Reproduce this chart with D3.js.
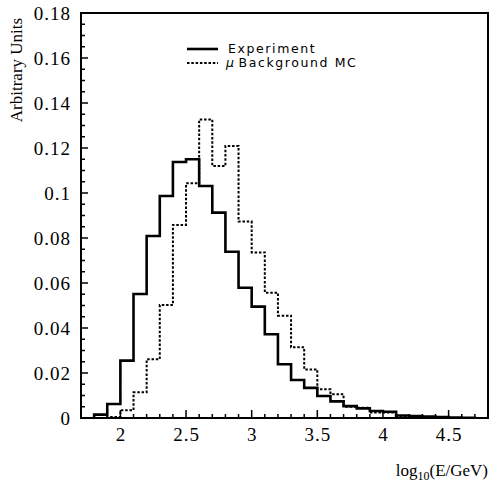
<!DOCTYPE html>
<html><head><meta charset="utf-8">
<script src="https://cdn.jsdelivr.net/npm/d3@7"></script>
<style>body{margin:0;background:#fff}</style>
</head><body><svg id="c" width="490" height="485"></svg>
<script>
// bin lower edges (width 0.1)
const binStart = 1.8, binWidth = 0.1;
const experiment = [0.0015,0.0062,0.0255,0.0551,0.0809,0.0987,0.1138,0.1150,0.1031,0.0913,0.0739,0.0579,0.0495,0.0372,0.0239,0.0169,0.0134,0.0098,0.0074,0.0053,0.0043,0.0031,0.0028,0.0011,0.0009,0.0006,0.0004,0.0002,0.0001];
const background = [0.0000,0.0005,0.0034,0.0114,0.0261,0.0502,0.0858,0.1043,0.1327,0.1120,0.1209,0.0873,0.0736,0.0557,0.0455,0.0314,0.0216,0.0128,0.0106,0.0050,0.0046,0.0025,0.0025,0.0005,0.0005,0,0,0,0];
const xTicks = [2,2.5,3,3.5,4,4.5];
const yTicks = [0,0.02,0.04,0.06,0.08,0.1,0.12,0.14,0.16,0.18];
const legendLabels = ["Experiment","Background MC"];

const svg = d3.select("#c");
const L=81,R=488,T=13,B=418;
const x = d3.scaleLinear().domain([1.7,4.8]).range([L,R]);
const y = d3.scaleLinear().domain([0,0.18]).range([B,T]);

function stepPath(vals){
  const p = d3.path();
  p.moveTo(x(binStart), y(0));
  vals.forEach((v,i)=>{
    const x0 = binStart + i*binWidth, x1 = x0+binWidth;
    p.lineTo(x(x0), y(v)); p.lineTo(x(x1), y(v));
  });
  p.lineTo(x(binStart+vals.length*binWidth), y(0));
  return p.toString();
}
svg.append("path").attr("d",stepPath(background)).attr("fill","none")
  .attr("stroke","#000").attr("stroke-width",2).attr("stroke-dasharray","2.5,1.8");
svg.append("path").attr("d",stepPath(experiment)).attr("fill","none")
  .attr("stroke","#000").attr("stroke-width",2.6);

// axes ticks (inside)
const minorX = d3.range(1.8,4.8,0.1).map(v=>+v.toFixed(2));
const minorY = d3.range(0,0.1801,0.005).map(v=>+v.toFixed(3));
const g = svg.append("g").attr("stroke","#000");
minorX.forEach(v=>{
  const major = xTicks.some(t=>Math.abs(t-v)<1e-6);
  g.append("line").attr("x1",x(v)).attr("x2",x(v)).attr("y1",B).attr("y2",B-(major?8:4)).attr("stroke-width",1.5);
});
minorY.forEach(v=>{
  const major = yTicks.some(t=>Math.abs(t-v)<1e-6);
  g.append("line").attr("x1",L).attr("x2",L+(major?7:4)).attr("y1",y(v)).attr("y2",y(v)).attr("stroke-width",1.5);
});
svg.append("rect").attr("x",L).attr("y",T).attr("width",R-L).attr("height",B-T)
  .attr("fill","none").attr("stroke","#000").attr("stroke-width",2);

const serif = "'Liberation Serif','Times New Roman',serif";
svg.append("g").selectAll("text").data(yTicks).join("text")
  .attr("x",71).attr("y",d=>y(d)+7).attr("text-anchor","end")
  .attr("font-family",serif).attr("font-size",19).attr("letter-spacing",1).text(d=>d3.format("")(d));
svg.append("g").selectAll("text").data(xTicks).join("text")
  .attr("x",d=>x(d)+0.5).attr("y",441).attr("text-anchor","middle")
  .attr("font-family",serif).attr("font-size",19).attr("letter-spacing",1).text(d=>d);

svg.append("text").attr("transform","translate(22,70) rotate(-90)").attr("text-anchor","middle")
  .attr("font-family",serif).attr("font-size",17).text("Arbitrary Units");

const xt = svg.append("text").attr("x",488).attr("y",476).attr("text-anchor","end")
  .attr("font-family",serif).attr("font-size",17);
xt.append("tspan").text("log");
xt.append("tspan").attr("font-size",12).attr("dy",4).text("10");
xt.append("tspan").attr("dy",-4).text("(E/GeV)");

// legend
const sans = "'DejaVu Sans',sans-serif";
svg.append("line").attr("x1",187).attr("x2",218).attr("y1",49).attr("y2",49).attr("stroke","#000").attr("stroke-width",2.6);
svg.append("line").attr("x1",187).attr("x2",218).attr("y1",63).attr("y2",63).attr("stroke","#000").attr("stroke-width",2).attr("stroke-dasharray","2.5,1.8");
svg.append("text").attr("x",228).attr("y",53).attr("font-family",sans).attr("font-size",12.5).attr("letter-spacing",1.6).text(legendLabels[0]);
const t2 = svg.append("text").attr("x",226).attr("y",66.5).attr("font-family",sans).attr("font-size",12.5).attr("letter-spacing",1.6);
t2.append("tspan").attr("font-style","italic").text("μ");
t2.append("tspan").attr("dx",3).text(legendLabels[1]);
</script></body></html>
